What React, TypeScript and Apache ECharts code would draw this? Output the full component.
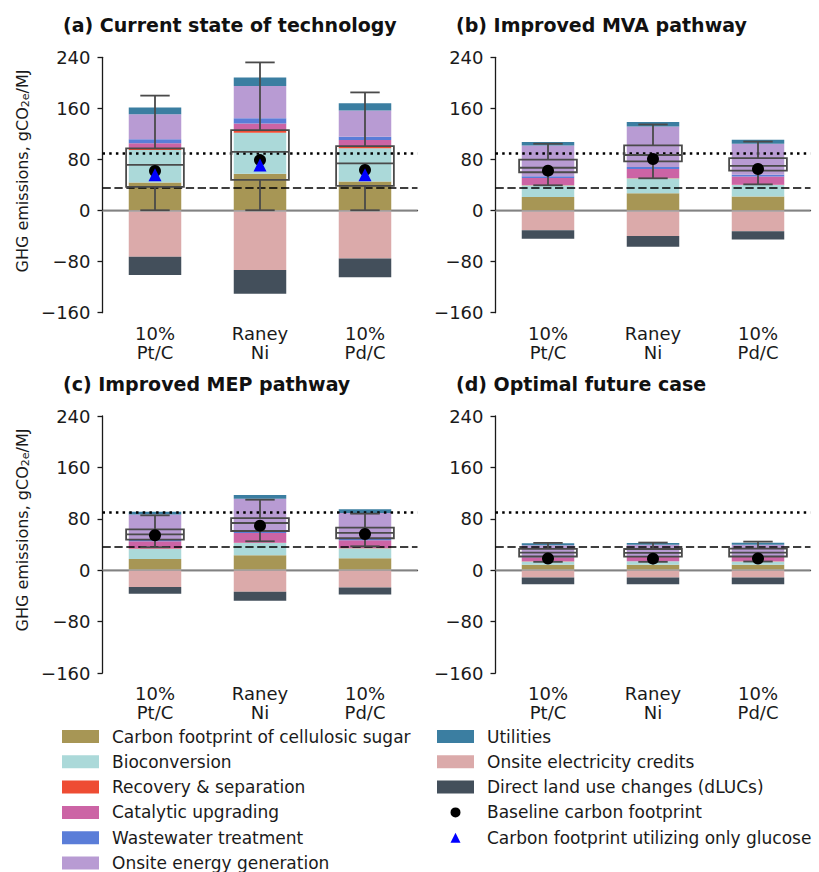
import React, { useEffect, useRef } from "react";
import * as echarts from "echarts";

// ---------- DATA ----------
const categories = ["10%\nPt/C", "Raney\nNi", "10%\nPd/C"];
const panelTitles = [
  "(a) Current state of technology",
  "(b) Improved MVA pathway",
  "(c) Improved MEP pathway",
  "(d) Optimal future case",
];
const yMin = -160;
const yMax = 240;
const yInterval = 80;

// each row: panel (a), (b), (c), (d); each entry: 10% Pt/C, Raney Ni, 10% Pd/C
const cellulosicSugar = [[44, 57.5, 45.5], [21.3, 27, 22], [17.6, 23.3, 18.6], [8.3, 8.5, 8.3]];
const bioconversion = [[51, 64.5, 52], [18.3, 23.5, 18], [15.5, 19, 15.5], [5.2, 5.3, 5.2]];
const recoverySeparation = [[2.5, 3, 2.5], [0.5, 0.5, 0.5], [0.5, 0.5, 0.5], [0.3, 0.3, 0.3]];
const catalyticUpgrading = [[8, 11.5, 10.5], [11, 14, 13], [11.5, 15.2, 12], [6.5, 6.6, 6.6]];
const wastewaterTreatment = [[6, 8, 5], [2.6, 3.2, 2.6], [2, 2.5, 2], [1.2, 1.2, 1.2]];
const onsiteEnergy = [[39.5, 50.5, 41], [48, 63.5, 48.5], [39.4, 50.7, 40.4], [17.5, 17.6, 18]];
const utilities = [[10.5, 13.5, 11.5], [5.6, 6.8, 6.3], [4.6, 5.8, 5.7], [3, 3, 3.1]];
const electricityCredits = [[-72.5, -93, -75], [-31, -40, -32.3], [-26, -33.6, -27], [-11.4, -11.5, -11.4]];
const landUseChanges = [[-28.5, -37.5, -29.5], [-13, -16.7, -13], [-10.7, -14, -11], [-10.4, -10.5, -10.4]];

// uncertainty box stats: [min, Q1, median, Q3, max]
const boxStats = [
  [[0.5, 37, 71.5, 97.5, 180], [0.5, 48, 92, 126, 232], [0.5, 38.5, 74, 101, 185]],
  [[39.6, 60, 67, 79.6, 104.6], [50.5, 77, 87, 102, 134.8], [41, 62.5, 70, 82, 108]],
  [[35.7, 47.6, 55.9, 63.6, 85.4], [45, 61, 73.5, 81.2, 109.7], [37.2, 49.7, 58, 66.2, 88]],
  [[13, 21.3, 27.5, 33.2, 42.5], [13, 21, 27, 33, 43], [13.5, 21.3, 27.5, 33.5, 44.5]],
];
const baselineFootprint = [[62, 79, 63.5], [62.5, 80.7, 65], [54.3, 69.3, 56.4], [18.1, 18, 18.2]];
const glucoseOnlyFootprint = [56, 71.5, 56]; // panel (a) only
const fossilReference = 90;
const reductionThreshold = 36;

const stackComponents = [
  { name: "Carbon footprint of cellulosic sugar", values: cellulosicSugar, color: "#a79655" },
  { name: "Bioconversion", values: bioconversion, color: "#abd9d9" },
  { name: "Recovery & separation", values: recoverySeparation, color: "#ee4c33" },
  { name: "Catalytic upgrading", values: catalyticUpgrading, color: "#cc64a5" },
  { name: "Wastewater treatment", values: wastewaterTreatment, color: "#5a7dd8" },
  { name: "Onsite energy generation", values: onsiteEnergy, color: "#b89bd3" },
  { name: "Utilities", values: utilities, color: "#3b7ea1" },
  { name: "Onsite electricity credits", values: electricityCredits, color: "#dbaaaa" },
  { name: "Direct land use changes (dLUCs)", values: landUseChanges, color: "#434f5b" },
];
const baselineName = "Baseline carbon footprint";
const glucoseName = "Carbon footprint utilizing only glucose";

// ---------- LAYOUT ----------
const FONT = "DejaVu Sans";
const grids = [
  { left: 102.5, top: 57.3, width: 315, height: 255.4 },
  { left: 495.5, top: 57.3, width: 315, height: 255.4 },
  { left: 102.5, top: 416, width: 315, height: 257 },
  { left: 495.5, top: 416, width: 315, height: 257 },
];
const titlePos = [
  { left: 63, top: 15 },
  { left: 456, top: 15 },
  { left: 63, top: 374 },
  { left: 456, top: 374 },
];
// legend marker icons padded to the 37x13 item box so they keep a small size
const circleIcon = "path://M0,0 M37,13 M13.5,6.5 A5,5 0 1,0 23.5,6.5 A5,5 0 1,0 13.5,6.5 Z";
const triangleIcon = "path://M0,0 M37,13 M18.5,1.5 L23.5,11.5 L13.5,11.5 Z";

function buildOption() {
  const series: any[] = [];
  for (let p = 0; p < 4; p++) {
    stackComponents.forEach((c, ci) => {
      const s: any = {
        type: "bar",
        name: c.name,
        xAxisIndex: p,
        yAxisIndex: p,
        stack: "stack" + p,
        stackStrategy: "samesign",
        barWidth: "50%",
        data: c.values[p],
        itemStyle: { color: c.color },
        z: 2,
        silent: true,
      };
      if (ci === 0) {
        s.markLine = {
          silent: true,
          symbol: "none",
          label: { show: false },
          z: 5,
          data: [
            { yAxis: 0, lineStyle: { color: "#a6a6a6", width: 1.5, type: "solid" } },
            { yAxis: fossilReference, lineStyle: { color: "#000", width: 2.5, type: [2.5, 4.2] } },
            { yAxis: reductionThreshold, lineStyle: { color: "#000", width: 1.5, type: [8.3, 3.6] } },
          ],
        };
      }
      series.push(s);
    });
    series.push({
      type: "custom",
      name: "uncertainty",
      xAxisIndex: p,
      yAxisIndex: p,
      z: 6,
      silent: true,
      encode: { x: 0, y: [1, 2, 3, 4, 5] },
      data: boxStats[p].map((b, i) => [i, ...b]),
      renderItem: (params: any, api: any) => {
        const x = api.value(0);
        const lo = api.coord([x, api.value(1)]);
        const q1 = api.coord([x, api.value(2)]);
        const med = api.coord([x, api.value(3)]);
        const q3 = api.coord([x, api.value(4)]);
        const hi = api.coord([x, api.value(5)]);
        const band = api.size([1, 0])[0];
        const bw = band * 0.55;
        const cw = band * 0.28;
        const cx = lo[0];
        const style = { stroke: "#4a4a4a", lineWidth: 1.8, fill: "none" };
        return {
          type: "group",
          children: [
            { type: "line", shape: { x1: cx, y1: hi[1], x2: cx, y2: q3[1] }, style },
            { type: "line", shape: { x1: cx, y1: q1[1], x2: cx, y2: lo[1] }, style },
            { type: "line", shape: { x1: cx - cw / 2, y1: hi[1], x2: cx + cw / 2, y2: hi[1] }, style },
            { type: "line", shape: { x1: cx - cw / 2, y1: lo[1], x2: cx + cw / 2, y2: lo[1] }, style },
            { type: "rect", shape: { x: cx - bw / 2, y: q3[1], width: bw, height: q1[1] - q3[1] }, style },
            { type: "line", shape: { x1: cx - bw / 2, y1: med[1], x2: cx + bw / 2, y2: med[1] }, style },
          ],
        };
      },
    });
    series.push({
      type: "scatter",
      name: baselineName,
      xAxisIndex: p,
      yAxisIndex: p,
      symbol: "circle",
      symbolSize: 12,
      itemStyle: { color: "#000", opacity: 1 },
      data: baselineFootprint[p],
      z: 8,
      silent: true,
    });
    if (p === 0) {
      series.push({
        type: "scatter",
        name: glucoseName,
        xAxisIndex: 0,
        yAxisIndex: 0,
        symbol: "triangle",
        symbolSize: 13,
        itemStyle: { color: "#0000ff", opacity: 1 },
        data: glucoseOnlyFootprint,
        z: 9,
        silent: true,
      });
    }
  }

  const axisLineStyle = { color: "#1a1a1a", width: 1.3 };
  const xAxis = grids.map((_, p) => ({
    type: "category",
    gridIndex: p,
    data: categories,
    axisLine: { show: true, lineStyle: axisLineStyle },
    axisTick: { show: true, alignWithLabel: true, length: 5, lineStyle: axisLineStyle },
    axisLabel: { fontSize: 18, color: "#1a1a1a", fontFamily: FONT, lineHeight: 19, margin: 11 },
    splitLine: { show: false },
  }));
  const yAxis = grids.map((_, p) => ({
    type: "value",
    gridIndex: p,
    min: yMin,
    max: yMax,
    interval: yInterval,
    axisLine: { show: true, lineStyle: axisLineStyle },
    axisTick: { show: true, length: 5, lineStyle: axisLineStyle },
    axisLabel: {
      fontSize: 18,
      color: "#1a1a1a",
      fontFamily: FONT,
      margin: 12,
      formatter: (v: number) => String(v).replace("-", "\u2212"),
    },
    splitLine: { show: false },
  }));

  const legendCommon = {
    orient: "vertical",
    padding: 0,
    itemWidth: 37,
    itemHeight: 13,
    itemGap: 8.3,
    selectedMode: false,
    textStyle: { fontSize: 17, color: "#1a1a1a", fontFamily: FONT, padding: [0, 0, 0, 8] },
  };

  const yLabel = (cy: number) => ({
    type: "text",
    x: 22,
    y: cy,
    rotation: Math.PI / 2,
    style: {
      text: "GHG emissions, gCO{sub|2e}/MJ",
      fontSize: 16,
      fontFamily: FONT,
      fill: "#1a1a1a",
      align: "center",
      verticalAlign: "middle",
      rich: {
        sub: { fontSize: 11, fontFamily: FONT, fill: "#1a1a1a", padding: [7, 0, 0, 0] },
      },
    },
  });

  return {
    animation: false,
    backgroundColor: "#ffffff",
    textStyle: { fontFamily: FONT },
    title: panelTitles.map((t, i) => ({
      text: t,
      left: titlePos[i].left,
      top: titlePos[i].top,
      padding: 0,
      textStyle: { fontSize: 19, fontWeight: "bold", color: "#111", fontFamily: FONT },
    })),
    grid: grids,
    xAxis,
    yAxis,
    legend: [
      {
        ...legendCommon,
        left: 62,
        top: 728,
        data: stackComponents.slice(0, 6).map((c) => ({ name: c.name, icon: "rect" })),
      },
      {
        ...legendCommon,
        left: 437,
        top: 728,
        data: [
          ...stackComponents.slice(6).map((c) => ({ name: c.name, icon: "rect" })),
          { name: baselineName, icon: circleIcon },
          { name: glucoseName, icon: triangleIcon },
        ],
      },
    ],
    graphic: [yLabel(171), yLabel(530)],
    series,
  };
}

export default function App() {
  const ref = useRef<HTMLDivElement>(null);
  useEffect(() => {
    if (!ref.current) return;
    const chart = echarts.init(ref.current, null, { renderer: "svg" });
    chart.setOption(buildOption() as any);
    return () => chart.dispose();
  }, []);
  return (
    <div
      ref={ref}
      style={{ position: "absolute", left: 0, top: 0, width: 819, height: 872 }}
    />
  );
}
